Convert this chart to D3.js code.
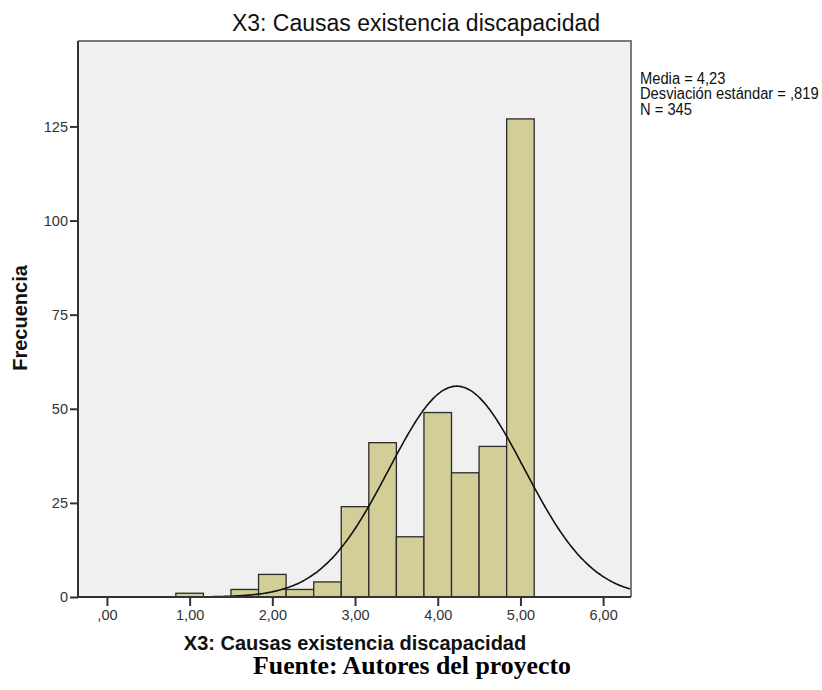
<!DOCTYPE html>
<html>
<head>
<meta charset="utf-8">
<script src="https://cdn.jsdelivr.net/npm/d3@7"></script>
<style>
  body { margin: 0; background: #fff; }
  svg { display: block; }
</style>
</head>
<body>
<svg id="chart" width="822" height="690"></svg>
<script>
// ---- data ----
const binStarts = [0.8333, 1.1667, 1.5, 1.8333, 2.1667, 2.5, 2.8333, 3.1667, 3.5, 3.8333, 4.1667, 4.5, 4.8333];
const binCounts = [1, 0, 2, 6, 2, 4, 24, 41, 16, 49, 33, 40, 127];
const binWidth = 1 / 3;
const xTicks = [0, 1, 2, 3, 4, 5, 6];
const xTickLabels = [",00", "1,00", "2,00", "3,00", "4,00", "5,00", "6,00"];
const yTicks = [0, 25, 50, 75, 100, 125];
const statMean = 4.23;
const statSd = 0.819;
const statN = 345;
const legendLines = ["Media = 4,23", "Desviación estándar = ,819", "N = 345"];
const titleText = "X3: Causas existencia discapacidad";
const xLabel = "X3: Causas existencia discapacidad";
const yLabel = "Frecuencia";
const sourceText = "Fuente: Autores del proyecto";

// ---- layout ----
const plot = { left: 78, right: 631, top: 41, bottom: 597 };
const svg = d3.select("#chart");
const x = d3.scaleLinear().domain([-0.35, 6.337]).range([plot.left, plot.right]);
const y = d3.scaleLinear().domain([0, 147.7]).range([plot.bottom, plot.top]);

svg.append("rect")
  .attr("x", plot.left).attr("y", plot.top)
  .attr("width", plot.right - plot.left).attr("height", plot.bottom - plot.top)
  .attr("fill", "#f0f0f0");

svg.append("defs").append("clipPath").attr("id", "clip")
  .append("rect")
  .attr("x", plot.left).attr("y", plot.top)
  .attr("width", plot.right - plot.left).attr("height", plot.bottom - plot.top);

// bars
const bins = binStarts.map((s, i) => ({ x0: s, x1: s + binWidth, n: binCounts[i] }))
  .filter(d => d.n > 0);
svg.append("g").selectAll("rect").data(bins).join("rect")
  .attr("x", d => x(d.x0))
  .attr("y", d => y(d.n))
  .attr("width", d => x(d.x1) - x(d.x0))
  .attr("height", d => y(0) - y(d.n))
  .attr("fill", "#d3ce97")
  .attr("stroke", "#2b2b2b")
  .attr("stroke-width", 1.3);

// normal curve implied by the stated mean / sd / N
const dens = v => statN * binWidth * Math.exp(-0.5 * Math.pow((v - statMean) / statSd, 2)) / (statSd * Math.sqrt(2 * Math.PI));
const curveXs = d3.range(x.domain()[0], x.domain()[1] + 0.001, 0.02);
svg.append("path")
  .datum(curveXs)
  .attr("clip-path", "url(#clip)")
  .attr("fill", "none")
  .attr("stroke", "#111")
  .attr("stroke-width", 1.6)
  .attr("d", d3.line().x(v => x(v)).y(v => y(dens(v))).curve(d3.curveBasis));

// frame (top / right)
svg.append("path")
  .attr("d", `M${plot.left},${plot.top}H${plot.right}V${plot.bottom}`)
  .attr("fill", "none").attr("stroke", "#7a7a7a").attr("stroke-width", 2);

// axes
const yAxis = svg.append("g").attr("transform", `translate(${plot.left},0)`)
  .call(d3.axisLeft(y).tickValues(yTicks).tickSize(8).tickPadding(2).tickFormat(d3.format("d")));
const xAxis = svg.append("g").attr("transform", `translate(0,${plot.bottom})`)
  .call(d3.axisBottom(x).tickValues(xTicks).tickSize(9).tickPadding(4).tickFormat((d, i) => xTickLabels[i]));
[xAxis, yAxis].forEach(g => {
  g.select(".domain").attr("stroke", "#333").attr("stroke-width", 2);
  g.selectAll(".tick line").attr("stroke", "#333").attr("stroke-width", 2);
  g.selectAll(".tick text").attr("fill", "#333")
    .style("font-family", "'Liberation Sans', Arial, sans-serif").style("font-size", "14.5px");
});
xAxis.select(".domain").attr("d", `M${plot.left},0H${plot.right}`);
yAxis.select(".domain").attr("d", `M0,${plot.bottom}V${plot.top}`);

// title
svg.append("text")
  .attr("x", 416).attr("y", 31)
  .attr("text-anchor", "middle")
  .style("font-family", "'Liberation Sans', Arial, sans-serif")
  .style("font-size", "23px").attr("fill", "#111")
  .text(titleText);

// legend (glyphs slightly condensed as in the reference)
svg.append("g").attr("transform", "translate(640,0) scale(0.92,1)")
  .selectAll("text").data(legendLines).join("text")
  .attr("x", 0).attr("y", (d, i) => 84 + i * 15.5)
  .style("font-family", "'Liberation Sans', Arial, sans-serif")
  .style("font-size", "16px").attr("fill", "#111")
  .text(d => d);

// axis labels
svg.append("text")
  .attr("x", 355).attr("y", 650)
  .attr("text-anchor", "middle")
  .style("font-family", "'Liberation Sans', Arial, sans-serif")
  .style("font-size", "20px").style("font-weight", "bold").attr("fill", "#111")
  .text(xLabel);

svg.append("text")
  .attr("transform", "translate(27,318) rotate(-90)")
  .attr("text-anchor", "middle")
  .style("font-family", "'Liberation Sans', Arial, sans-serif")
  .style("font-size", "20px").style("font-weight", "bold").attr("fill", "#111")
  .text(yLabel);

// source
svg.append("text")
  .attr("x", 412).attr("y", 674)
  .attr("text-anchor", "middle")
  .style("font-family", "'Liberation Serif', 'Times New Roman', serif")
  .style("font-size", "25.8px").style("font-weight", "bold").attr("fill", "#000")
  .text(sourceText);
</script>
</body>
</html>
